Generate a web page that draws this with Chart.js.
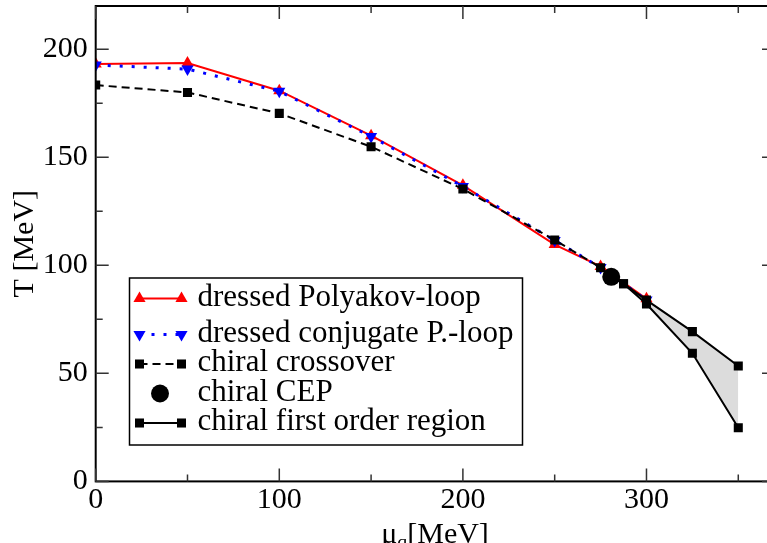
<!DOCTYPE html>
<html><head><meta charset="utf-8">
<script src="https://cdn.jsdelivr.net/npm/chart.js"></script>
<style>html{overflow:hidden}html,body{margin:0;padding:0;background:#fff}#wrap{width:775px;height:543px;position:relative}canvas{display:block}</style>
</head><body>
<div id="wrap"><canvas id="c" width="775" height="543"></canvas></div>
<script>
// ---- data ----
const seriesLabels = ['dressed Polyakov-loop', 'dressed conjugate P.-loop', 'chiral crossover', 'chiral CEP', 'chiral first order region'];
const polyMu = [0, 50, 100, 150, 200, 250, 275, 300];
const polyT  = [193.2, 193.6, 180.8, 160.0, 137.0, 109.6, 99.5, 84.5];
const conjMu = [0, 50, 100, 150, 200, 250, 275, 300];
const conjT  = [192.7, 190.8, 180.5, 159.6, 136.5, 111.5, 99.0, 84.0];
const crossMu = [0, 50, 100, 150, 200, 250, 275];
const crossT  = [183.4, 180.0, 170.3, 154.9, 135.3, 111.7, 98.9];
const cepMu = [280.8];
const cepT  = [94.7];
const foUpperMu = [280.8, 287.5, 300, 325, 350];
const foUpperT  = [94.7, 91.5, 83.9, 69.3, 53.4];
const foLowerMu = [280.8, 287.5, 300, 325, 350];
const foLowerT  = [94.7, 91.5, 82.1, 59.3, 24.8];
const xTicks = [0, 100, 200, 300];
const xMinorTicks = [50, 150, 250, 350];
const yTicks = [0, 50, 100, 150, 200];
const yMinorTicks = [25, 75, 125, 175];
const xTitleMain = 'μ', xTitleSub = 'q', xTitleUnit = '[MeV]';
const yTitle = 'T [MeV]';

const pts = (xs, ys) => xs.map((x, i) => ({x: x, y: ys[i]}));
const FONT = '"Liberation Serif", "Times New Roman", serif';

const sq = 6.4;
const tr = 7;
const datasets = [
  {label: seriesLabels[0], data: pts(polyMu, polyT), borderColor: '#ff0000', backgroundColor: '#ff0000',
   borderWidth: 2, pointStyle: 'triangle', pointRadius: tr, pointBorderWidth: 0, order: 6, fill: false},
  {label: seriesLabels[1], data: pts(conjMu, conjT), borderColor: '#0000ff', backgroundColor: '#0000ff',
   borderWidth: 3, borderDash: [3, 9], pointStyle: 'triangle', pointRotation: 180, pointRadius: tr, pointBorderWidth: 0, order: 5, fill: false},
  {label: seriesLabels[2], data: pts(crossMu, crossT), borderColor: '#000', backgroundColor: '#000',
   borderWidth: 2, borderDash: [8, 5], pointStyle: 'rect', pointRadius: sq, pointBorderWidth: 0, order: 4, fill: false},
  {label: seriesLabels[3], data: pts(cepMu, cepT), borderColor: '#000', backgroundColor: '#000',
   showLine: false, pointStyle: 'circle', pointRadius: 9, pointBorderWidth: 0, order: 3, fill: false},
  {label: seriesLabels[4], data: pts(foUpperMu, foUpperT), borderColor: '#000', backgroundColor: '#dcdcdc',
   borderWidth: 2, pointStyle: 'rect', pointRadius: foUpperMu.map((v, i) => i === 0 ? 0 : sq),
   pointBackgroundColor: '#000', pointBorderWidth: 0, order: 2, fill: '+1'},
  {label: seriesLabels[4] + ' (lower)', data: pts(foLowerMu, foLowerT), borderColor: '#000', backgroundColor: '#000',
   borderWidth: 2, pointStyle: 'rect', pointRadius: foLowerMu.map((v, i) => i === 0 ? 0 : sq),
   pointBorderWidth: 0, order: 1, fill: false}
];

function marker(ctx, type, x, y) {
  ctx.save();
  ctx.fillStyle = type.color;
  ctx.beginPath();
  if (type.kind === 'tri' || type.kind === 'trid') {
    const r = tr, s = type.kind === 'tri' ? 1 : -1;
    ctx.moveTo(x, y - s * r);
    ctx.lineTo(x + r * 0.866, y + s * r * 0.5);
    ctx.lineTo(x - r * 0.866, y + s * r * 0.5);
    ctx.closePath();
  } else if (type.kind === 'sq') {
    const h = sq * Math.SQRT1_2;
    ctx.rect(x - h, y - h, 2 * h, 2 * h);
  } else if (type.kind === 'circ') {
    ctx.arc(x, y, 9, 0, Math.PI * 2);
  }
  ctx.fill();
  ctx.restore();
}

const decor = {
  id: 'decor',
  afterDraw(chart) {
    const {ctx, chartArea: a, scales: {x, y}} = chart;
    ctx.save();
    // frame
    ctx.strokeStyle = '#000';
    ctx.lineWidth = 2;
    ctx.strokeRect(a.left, a.top, a.right - a.left, a.bottom - a.top);
    // inward ticks
    ctx.lineWidth = 1.5;
    ctx.strokeStyle = '#333';
    const tx = (v, len) => {
      const p = x.getPixelForValue(v);
      ctx.beginPath();
      ctx.moveTo(p, a.bottom); ctx.lineTo(p, a.bottom - len);
      ctx.moveTo(p, a.top); ctx.lineTo(p, a.top + len);
      ctx.stroke();
    };
    const ty = (v, len) => {
      const p = y.getPixelForValue(v);
      ctx.beginPath();
      ctx.moveTo(a.left, p); ctx.lineTo(a.left + len, p);
      ctx.moveTo(a.right, p); ctx.lineTo(a.right - len, p);
      ctx.stroke();
    };
    xTicks.forEach(v => tx(v, 13));
    xMinorTicks.forEach(v => tx(v, 7));
    yTicks.forEach(v => ty(v, 13));
    yMinorTicks.forEach(v => ty(v, 7));

    // x title with subscript
    ctx.fillStyle = '#000';
    ctx.textBaseline = 'alphabetic';
    const fMain = '30px ' + FONT, fSub = '20px ' + FONT;
    ctx.font = fMain;
    const w1 = ctx.measureText(xTitleMain).width;
    const w3 = ctx.measureText(xTitleUnit).width;
    ctx.font = fSub;
    const w2 = ctx.measureText(xTitleSub).width;
    let sx = 435 - (w1 + w2 + w3) / 2;
    const base = 543;
    ctx.font = fMain; ctx.textAlign = 'left';
    ctx.fillText(xTitleMain, sx, base);
    ctx.font = fSub;
    ctx.fillText(xTitleSub, sx + w1, base + 6);
    ctx.font = fMain;
    ctx.fillText(xTitleUnit, sx + w1 + w2, base);

    // legend
    const L = 129.5, T = 278, R = 522.5, B = 445;
    ctx.fillStyle = '#fff';
    ctx.fillRect(L, T, R - L, B - T);
    ctx.strokeStyle = '#000';
    ctx.lineWidth = 1.5;
    ctx.strokeRect(L, T, R - L, B - T);
    const rows = [298.5, 334.5, 364, 393.5, 423];
    const x1 = 139.5, x2 = 181.5, tx0 = 197.5;
    const specs = [
      {ds: datasets[0], m: {kind: 'tri', color: '#ff0000'}},
      {ds: datasets[1], m: {kind: 'trid', color: '#0000ff'}},
      {ds: datasets[2], m: {kind: 'sq', color: '#000'}},
      {ds: datasets[3], m: {kind: 'circ', color: '#000'}},
      {ds: datasets[4], m: {kind: 'sq', color: '#000'}}
    ];
    specs.forEach((s, i) => {
      const yy = rows[i];
      if (s.ds.showLine !== false) {
        ctx.save();
        ctx.strokeStyle = s.ds.borderColor;
        ctx.lineWidth = s.ds.borderWidth;
        ctx.setLineDash(s.ds.borderDash || []);
        ctx.beginPath();
        ctx.moveTo(x1, yy); ctx.lineTo(x2, yy);
        ctx.stroke();
        ctx.restore();
        marker(ctx, s.m, x1, yy);
        marker(ctx, s.m, x2, yy);
      } else {
        marker(ctx, s.m, (x1 + x2) / 2 - 0.5, yy);
      }
      ctx.fillStyle = '#000';
      ctx.font = '31px ' + FONT;
      ctx.textAlign = 'left';
      ctx.textBaseline = 'alphabetic';
      ctx.fillText(s.ds.label, tx0, yy + 7);
    });
    ctx.restore();
  }
};

new Chart(document.getElementById('c'), {
  type: 'line',
  data: {datasets: datasets},
  plugins: [decor],
  options: {
    responsive: false,
    animation: false,
    devicePixelRatio: 1,
    layout: {autoPadding: false, padding: {top: 6, right: 0, left: 0, bottom: 0}},
    plugins: {legend: {display: false}, tooltip: {enabled: false}},
    elements: {line: {tension: 0, borderCapStyle: 'butt'}},
    scales: {
      x: {
        type: 'linear', min: 0, max: 370,
        grid: {display: false, drawTicks: false, tickLength: 0},
        border: {display: false},
        ticks: {font: {family: FONT, size: 30}, color: '#000', padding: 1, maxRotation: 0, autoSkip: false},
        afterBuildTicks: s => { s.ticks = xTicks.map(v => ({value: v})); },
        afterFit: s => { s.height = 61.6; s.paddingLeft = 0; s.paddingRight = 0; }
      },
      y: {
        type: 'linear', min: 0, max: 220,
        grid: {display: false, drawTicks: false, tickLength: 0},
        border: {display: false},
        ticks: {font: {family: FONT, size: 30}, color: '#000', padding: 8, autoSkip: false},
        title: {display: true, text: yTitle, font: {family: FONT, size: 30}, color: '#000', padding: {top: 7, bottom: 0}},
        afterBuildTicks: s => { s.ticks = yTicks.map(v => ({value: v})); },
        afterFit: s => { s.width = 95.7; s.paddingTop = 0; s.paddingBottom = 0; }
      }
    }
  }
});
</script>
</body></html>
